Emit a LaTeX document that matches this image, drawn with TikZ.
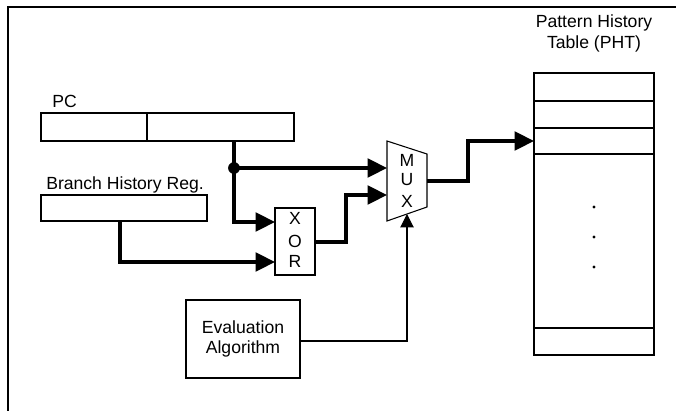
\documentclass[tikz,border=0pt]{standalone}
\usepackage{fontspec}
\setmainfont{Liberation Sans}
\usetikzlibrary{arrows.meta}

\tikzset{
  box/.style={draw=black, line width=0.8pt, inner sep=0pt, minimum width=#1},
  box/.default=10pt,
  label text/.style={inner sep=0pt, font=\fontsize{13.2}{15.5}\selectfont},
  bus/.style={line width=2.3pt, -{Triangle[length=14.5pt,width=14pt]}},
  busline/.style={line width=2.3pt},
  ctrl/.style={line width=0.8pt, -{Triangle[length=10pt,width=10pt]}},
}

\begin{document}
\begin{tikzpicture}[x=0.75pt, y=-0.75pt]
  \useasboundingbox (0,0) rectangle (676,411);

  % outer frame (only top and left edges fall inside the page)
  \draw[line width=1.6pt] (8,420) -- (8,7) -- (690,7);

  % PC register: two fields
  \node[box=79.5pt, minimum height=21pt] (pcA) at (94,127) {};
  \node[box=110.25pt, minimum height=21pt] (pcB) at (220.5,127) {};
  \node[label text, anchor=base west] (pclbl) at (52,107) {PC};

  % branch history register
  \node[box=124.5pt, minimum height=19.5pt] (bhr) at (124,208) {};
  \node[label text, anchor=base west] (bhrlbl) at (46,189) {Branch History Reg.};

  % XOR unit
  \node[box=30pt, minimum height=50.25pt] (xor) at (295,241.5) {};
  \node[label text] (xorX) at (295,218) {X};
  \node[label text] (xorO) at (295,241) {O};
  \node[label text] (xorR) at (295,261) {R};

  % multiplexer
  \draw[line width=0.8pt] (387,141) coordinate (muxTL) -- (427,154) coordinate (muxTR)
        -- (427,207) coordinate (muxBR) -- (387,221) coordinate (muxBL) -- cycle;
  \node[label text] (muxM) at (407,160) {M};
  \node[label text] (muxU) at (407,180) {U};
  \node[label text] (muxX) at (407,201) {X};

  % evaluation algorithm
  \node[box=85.5pt, minimum height=58.5pt] (eval) at (243,339) {};
  \node[label text, align=center] (evaltxt) at (243,339) {Evaluation\\Algorithm};

  % pattern history table
  \node[box=90pt, minimum height=211.5pt] (pht) at (594,214) {};
  \foreach \yy in {101,128,154,328}
    \draw[line width=0.8pt] (pht.west |- 0,\yy) -- (pht.east |- 0,\yy);
  \foreach \yy in {207,237,267}
    \fill (594,\yy) circle (1.2pt);
  \node[label text, align=center, anchor=base] (phtlbl) at (594,48) {Pattern History\\Table (PHT)};

  % connection points
  \coordinate (j) at (234,168);
  \coordinate (muxIn1) at (387,168);
  \coordinate (muxIn2) at (387,195);
  \coordinate (muxOut) at (427,181);
  \coordinate (muxSel) at (407,214);
  \coordinate (xorIn1) at (275,222);
  \coordinate (xorIn2) at (275,262);
  \coordinate (xorOut) at (315,242);
  \coordinate (phtIn) at (534,141);
  \coordinate (evalOut) at (300,341);

  % PC bits to XOR and MUX
  \draw[busline] (j |- pcB.south) -- (j);
  \draw[bus] (j) -- (j |- xorIn1) -- (xorIn1);
  \draw[bus] (j) -- (muxIn1);
  \fill (j) circle (4.4pt);

  % history register to XOR
  \draw[bus] (120,221) -- (120,262) -- (xorIn2);

  % XOR result to MUX
  \draw[bus] (xorOut) -- (346,242) -- (346,195) -- (muxIn2);

  % MUX output to PHT
  \draw[bus] (muxOut) -- (468,181) -- (468,141) -- (phtIn);

  % select line from evaluation algorithm
  \draw[ctrl] (evalOut) -- (muxSel |- evalOut) -- (muxSel);
\end{tikzpicture}
\end{document}
